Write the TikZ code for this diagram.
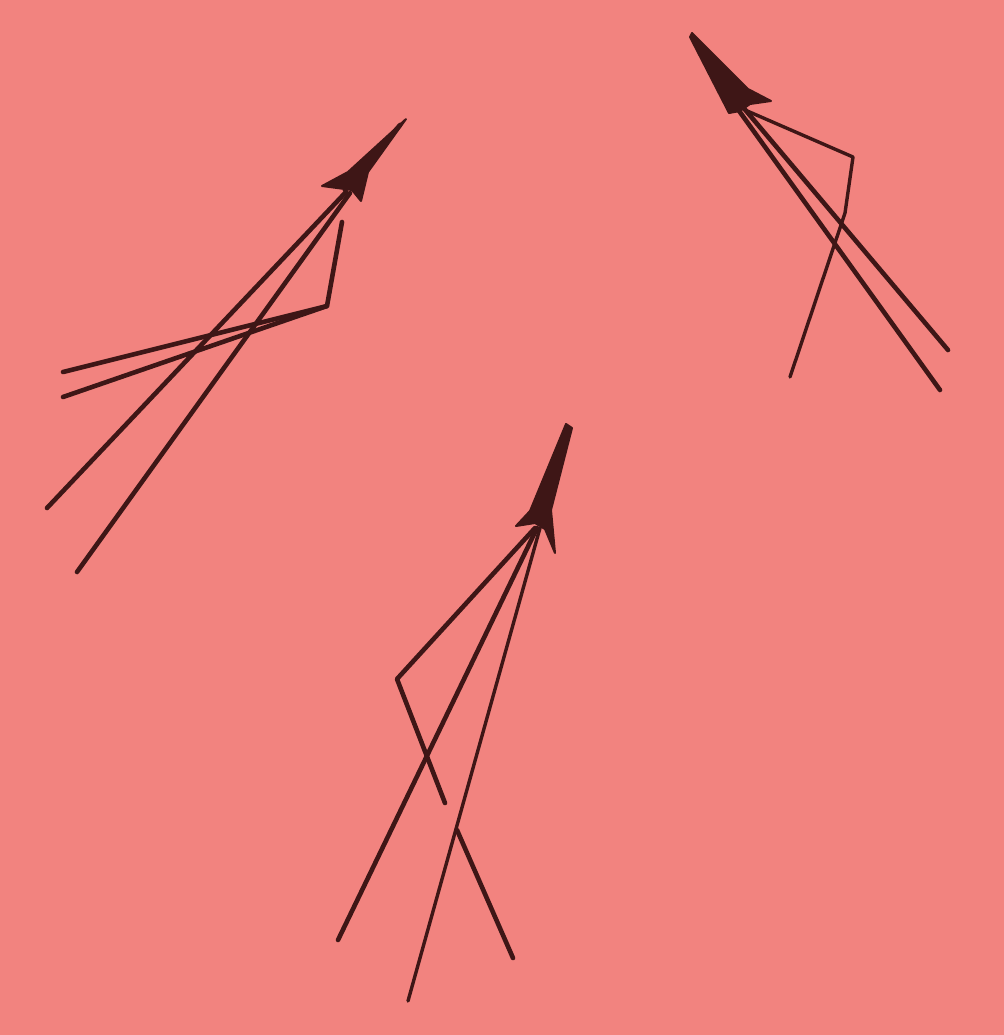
\documentclass[tikz,border=0pt]{standalone}
\definecolor{paper}{RGB}{242,131,127}
\definecolor{ink}{RGB}{62,22,22}
\tikzset{
  stroke/.style={draw=ink,line width=2.3pt,line cap=round,line join=round},
  thinstroke/.style={draw=ink,line width=1.7pt,line cap=round,line join=round},
  head/.style={fill=ink,draw=ink,line width=1pt,line join=round}
}
\begin{document}
\begin{tikzpicture}[x=0.5pt,y=-0.5pt]
\fill[paper] (0,0) rectangle (1004,1035);
\useasboundingbox (0,0) rectangle (1004,1035);

% ---------- group 1 (upper left) ----------
\coordinate (a1) at (346,192);
\coordinate (b1) at (350,193);
\coordinate (c1) at (342,222);
\coordinate (k1) at (327,306);
\coordinate (fa) at (47,508);
\coordinate (fb) at (77,572);
\coordinate (fu) at (63,372);
\coordinate (fl) at (63,397);
\draw[stroke] (a1) -- (fa);
\draw[stroke] (b1) -- (fb);
\draw[stroke] (c1) -- (k1) -- (fu);
\draw[stroke] (k1) -- (fl);
\draw[stroke] (345,190) -- (400,125);
\draw[head] (406,119) -- (368,172) -- (361,201) -- (352,190) -- (322,186) -- (348,172) -- cycle;

% ---------- group 2 (upper right) ----------
\coordinate (d2) at (737,108);
\coordinate (e2) at (742,106);
\coordinate (f2) at (745,110);
\coordinate (k2) at (853,157);
\coordinate (m2) at (845,213);
\coordinate (gd) at (940,390);
\coordinate (ge) at (948,350);
\coordinate (gf) at (790,377);
\draw[stroke] (d2) -- (gd);
\draw[stroke] (e2) -- (ge);
\draw[thinstroke] (f2) -- (k2) -- (m2) -- (gf);
\draw[head] (692,33) -- (748,89) -- (771,101) -- (750,104) -- (740,111) -- (729,113) -- (690,37) -- cycle;

% ---------- group 3 (bottom) ----------
\coordinate (g3) at (535,528);
\coordinate (h3) at (537,528);
\coordinate (i3) at (540,528);
\coordinate (k3) at (397,679);
\coordinate (e3) at (445,803);
\coordinate (gh) at (338,940);
\coordinate (gi) at (408,1001);
\coordinate (b3) at (457,830);
\coordinate (bb) at (513,958);
\draw[stroke] (g3) -- (k3) -- (e3);
\draw[stroke] (h3) -- (gh);
\draw[thinstroke] (i3) -- (gi);
\draw[stroke] (b3) -- (bb);
\draw[head] (566,424) -- (572,428) -- (551,510) -- (555,553) -- (545,529) -- (535,523) -- (516,526) -- (530,511) -- cycle;
\end{tikzpicture}
\end{document}
